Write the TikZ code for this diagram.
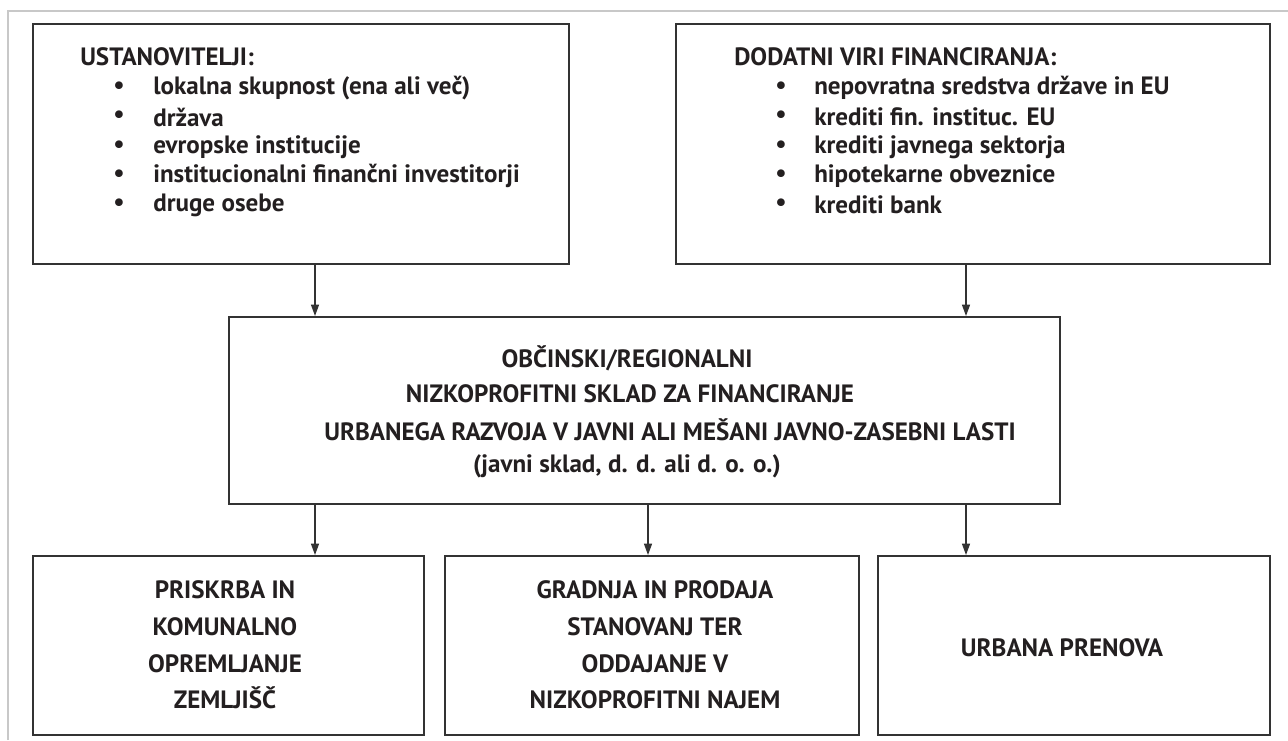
\documentclass[tikz,border=0pt]{standalone}
\usepackage{fontspec}
\setmainfont{PT Sans}
\usetikzlibrary{arrows.meta}
\definecolor{boxline}{HTML}{333333}
\definecolor{frameline}{HTML}{C8C8C8}
\definecolor{txt}{HTML}{231F20}
\tikzset{
  boxrect/.style={draw=boxline, line width=1.3pt},
  conn/.style={draw=boxline, line width=0.9pt, -{Triangle[length=8.5pt,width=6pt]}},
  head/.style={anchor=west, inner sep=0pt, font=\bfseries\fontsize{18.8}{22}\selectfont, text=txt},
  item/.style={anchor=west, inner sep=0pt, font=\bfseries\fontsize{18.8}{22}\selectfont, text=txt},
  bul/.style={inner sep=0pt, font=\bfseries\fontsize{18.8}{22}\selectfont, text=txt},
  ctr/.style={align=center, inner sep=0pt, font=\bfseries\fontsize{18.8}{27.6}\selectfont, text=txt},
}
\begin{document}
\begin{tikzpicture}[x=0.75pt,y=-0.75pt]
\useasboundingbox (0,0) rectangle (1288,740);
% light frame
\draw[frameline, line width=1pt] (8,740) -- (8,11) -- (1288,11);
% boxes
\node[boxrect, minimum width=536*0.75pt, minimum height=240*0.75pt, anchor=north west] (b1) at (32,23) {};
\node[boxrect, minimum width=594*0.75pt, minimum height=240*0.75pt, anchor=north west] (b2) at (675,23) {};
\node[boxrect, minimum width=831*0.75pt, minimum height=187*0.75pt, anchor=north west] (mid) at (228,316) {};
\node[boxrect, minimum width=391*0.75pt, minimum height=179*0.75pt, anchor=north west] (ba) at (32,555) {};
\node[boxrect, minimum width=414*0.75pt, minimum height=179*0.75pt, anchor=north west] (bb) at (444,555) {};
\node[boxrect, minimum width=392*0.75pt, minimum height=179*0.75pt, anchor=north west] (bc) at (877,555) {};
% box 1 text
\node[head] (t1) at (80,57) {USTANOVITELJI:};
\foreach \y/\t [count=\i] in {88/lokalna skupnost (ena ali več),117/država,147/evropske institucije,176/institucionalni finančni investitorji,205/druge osebe}{
  \node[bul] (ba\i) at (119,\y) {•};
  \node[item] (ia\i) at (153,\y) {\t};
}
% box 2 text
\node[head] (t2) at (734,57) {DODATNI VIRI FINANCIRANJA:};
\foreach \y/\t [count=\i] in {88/nepovratna sredstva države in EU,117/krediti fin. instituc. EU,147/krediti javnega sektorja,176/hipotekarne obveznice,205/krediti bank}{
  \node[bul] (bb\i) at (781,\y) {•};
  \node[item] (ib\i) at (814,\y) {\t};
}
% middle text
\node[ctr] (m1) at (627,358) {OBČINSKI/REGIONALNI};
\node[ctr] (m2) at (630,394) {NIZKOPROFITNI SKLAD ZA FINANCIRANJE};
\node[ctr] (m3) at (670,430) {URBANEGA RAZVOJA V JAVNI ALI MEŠANI JAVNO-ZASEBNI LASTI};
\node[ctr] (m4) at (627,466) {(javni sklad, d. d. ali d. o. o.)};
% bottom texts
\node[ctr] (ta) at (225,645) {PRISKRBA IN\\KOMUNALNO\\OPREMLJANJE\\ZEMLJIŠČ};
\node[ctr] (tb) at (655,645) {GRADNJA IN PRODAJA\\STANOVANJ TER\\ODDAJANJE V\\NIZKOPROFITNI NAJEM};
\node[ctr] (tc) at (1062,648) {URBANA PRENOVA};
% connectors
\coordinate (c1) at (315,263);
\coordinate (c2) at (966,263);
\draw[conn] (c1) -- (c1 |- mid.north);
\draw[conn] (c2) -- (c2 |- mid.north);
\coordinate (d1) at (315,503);
\coordinate (d2) at (648,503);
\coordinate (d3) at (966,503);
\draw[conn] (d1 |- mid.south) -- (d1 |- ba.north);
\draw[conn] (d2 |- mid.south) -- (d2 |- bb.north);
\draw[conn] (d3 |- mid.south) -- (d3 |- bc.north);
\end{tikzpicture}
\end{document}
